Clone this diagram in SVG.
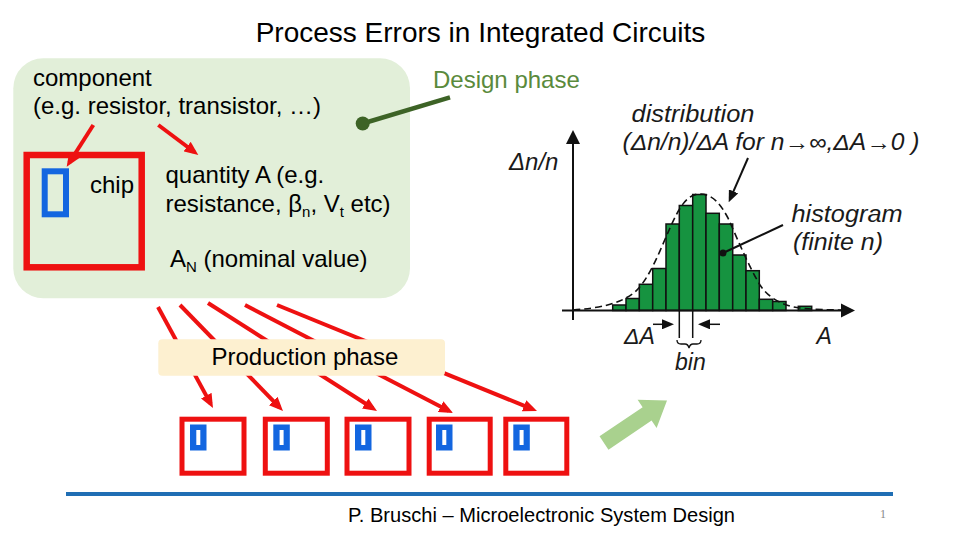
<svg xmlns="http://www.w3.org/2000/svg" width="960" height="540" viewBox="0 0 960 540">
<style>
text{font-family:"Liberation Sans",Arial,sans-serif;fill:#000}
.t24{font-size:24px}
.it{font-style:italic;font-size:23px;fill:#1a1a1a}
.red{stroke:#ee1111;stroke-width:4;fill:none}
.chip{fill:none;stroke:#ee1111;stroke-width:5}
.bar{fill:#169340;stroke:#111;stroke-width:1.5}
.blk{stroke:#111;fill:none}
</style>
<defs>
<marker id="ar" markerUnits="userSpaceOnUse" markerWidth="14" markerHeight="12" refX="9" refY="6" orient="auto"><path d="M0,0 L14,6 L0,12 z" fill="#ee1111"/></marker>
<marker id="ab" markerUnits="userSpaceOnUse" markerWidth="12" markerHeight="10" refX="8" refY="5" orient="auto"><path d="M0,0 L12,5 L0,10 z" fill="#111"/></marker>
</defs>
<rect width="960" height="540" fill="#fff"/>

<g id="title"><text x="480.5" y="42" font-size="28" text-anchor="middle">Process Errors in Integrated Circuits</text></g>

<g id="design-box">
<rect x="13.3" y="58.3" width="396.7" height="240" rx="30" fill="#e2efd9"/>
<text class="t24" x="33" y="86">component</text>
<text class="t24" x="33" y="114">(e.g. resistor, transistor, …)</text>
</g>

<g id="chip-big">
<rect x="26.7" y="155" width="115" height="112.3" fill="none" stroke="#ee1111" stroke-width="6.5"/>
<rect x="44.7" y="171.3" width="21.3" height="43" fill="none" stroke="#1366e0" stroke-width="6"/>
<text class="t24" x="90" y="193">chip</text>
</g>

<g id="quantity">
<text class="t24" x="165.5" y="183">quantity A (e.g.</text>
<text class="t24" x="165.5" y="211.5">resistance, β<tspan font-size="15" dy="5">n</tspan><tspan dy="-5">, V</tspan><tspan font-size="15" dy="5">t</tspan><tspan dy="-5"> etc)</tspan></text>
<text class="t24" x="170" y="266.5">A<tspan font-size="15" dy="5">N</tspan><tspan dy="-5"> (nominal value)</tspan></text>
</g>

<g id="design-phase">
<text class="t24" x="433" y="87.5" fill="#5a8a3c" style="fill:#5a8a3c">Design phase</text>
</g>

<g id="connectors">
<line x1="362.7" y1="123.5" x2="450" y2="97.3" stroke="#3d6326" stroke-width="4.5"/>
<circle cx="362.7" cy="123.5" r="7" fill="#3d6326"/>
<line class="red" x1="93.3" y1="125" x2="69.4" y2="162.5" marker-end="url(#ar)"/>
<line class="red" x1="158.3" y1="125" x2="194.3" y2="152" marker-end="url(#ar)"/>
<line class="red" x1="158" y1="307" x2="210.6" y2="403.6" marker-end="url(#ar)"/>
<line class="red" x1="180" y1="305" x2="279.5" y2="407.4" marker-end="url(#ar)"/>
<line class="red" x1="208" y1="303" x2="372.8" y2="408.3" marker-end="url(#ar)"/>
<line class="red" x1="245" y1="305" x2="448.6" y2="410.7" marker-end="url(#ar)"/>
<line class="red" x1="277" y1="305" x2="532.4" y2="409.1" marker-end="url(#ar)"/>
</g>

<g id="production-phase">
<rect x="158.3" y="339.3" width="286.7" height="36.4" rx="4" fill="#fdf0d0"/>
<text class="t24" x="211.5" y="365">Production phase</text>
</g>

<g id="chip-1"><rect class="chip" x="182" y="419.2" width="62" height="54"/><rect x="190" y="424.5" width="16.5" height="26" fill="#1366e0"/><rect x="196.3" y="430" width="4" height="15" fill="#fff"/></g>
<g id="chip-2"><rect class="chip" x="265.3" y="419.2" width="62" height="54"/><rect x="273.3" y="424.5" width="16.5" height="26" fill="#1366e0"/><rect x="279.6" y="430" width="4" height="15" fill="#fff"/></g>
<g id="chip-3"><rect class="chip" x="347" y="419.2" width="62" height="54"/><rect x="355" y="424.5" width="16.5" height="26" fill="#1366e0"/><rect x="361.3" y="430" width="4" height="15" fill="#fff"/></g>
<g id="chip-4"><rect class="chip" x="429.2" y="419.2" width="61" height="54"/><rect x="436" y="424.5" width="16.5" height="26" fill="#1366e0"/><rect x="442.3" y="430" width="4" height="15" fill="#fff"/></g>
<g id="chip-5"><rect class="chip" x="505.8" y="419.2" width="61" height="54"/><rect x="513.3" y="424.5" width="16.5" height="26" fill="#1366e0"/><rect x="519.6" y="430" width="4" height="15" fill="#fff"/></g>

<g id="green-arrow" transform="translate(604,443) rotate(-34)">
<polygon points="0,-8 52,-8 52,-17 76,0 52,17 52,8 0,8" fill="#a9d18e"/>
</g>

<g id="histogram">
<rect class="bar" x="612.7" y="305" width="13.3" height="5.5"/>
<rect class="bar" x="626" y="298.5" width="13.3" height="12"/>
<rect class="bar" x="639.3" y="284.3" width="13.4" height="26.2"/>
<rect class="bar" x="652.7" y="268.5" width="13.3" height="42"/>
<rect class="bar" x="666" y="224" width="13.3" height="86.5"/>
<rect class="bar" x="679.3" y="205.5" width="13.4" height="105"/>
<rect class="bar" x="692.7" y="194.5" width="13.3" height="116"/>
<rect class="bar" x="706" y="213.3" width="13.3" height="97.2"/>
<rect class="bar" x="719.3" y="224" width="13.4" height="86.5"/>
<rect class="bar" x="732.7" y="255" width="13.3" height="55.5"/>
<rect class="bar" x="746" y="270.7" width="13.3" height="39.8"/>
<rect class="bar" x="759.3" y="299.3" width="13.4" height="11.2"/>
<rect class="bar" x="772.7" y="301.5" width="13.3" height="9"/>
<rect class="bar" x="798.3" y="306.3" width="13.4" height="4.2"/>
<path class="blk" stroke-width="1.6" stroke-dasharray="7,4" d="M573,310 C600,308 620,304 635,292 C650,278 660,250 670,228 C680,205 688,194 700,194 C712,194 720,203 728,218 C738,240 748,265 760,285 C770,300 785,306 800,308 C820,310 840,310 850,310"/>
<line class="blk" stroke-width="2" x1="573" y1="320" x2="573" y2="140"/>
<polygon points="573,130 566,144 580,144" fill="#111"/>
<line class="blk" stroke-width="2" x1="562" y1="310.5" x2="844" y2="310.5"/>
<polygon points="855,310.5 841,303.5 841,317.5" fill="#111"/>
<line class="blk" stroke-width="1.5" x1="679.3" y1="310" x2="679.3" y2="338"/>
<line class="blk" stroke-width="1.5" x1="692.7" y1="310" x2="692.7" y2="338"/>
<line class="blk" stroke-width="1.5" x1="653" y1="324.3" x2="670" y2="324.3" marker-end="url(#ab)"/>
<line class="blk" stroke-width="1.5" x1="720" y1="324.3" x2="702" y2="324.3" marker-end="url(#ab)"/>
<path class="blk" stroke-width="1.3" d="M677,340 Q677,344 681,344 L685,344 Q688,344 689,348 Q690,344 693,344 L697,344 Q701,344 701,340"/>
<line class="blk" stroke-width="2" x1="748" y1="158" x2="730.3" y2="198.7" marker-end="url(#ab)"/>
<line class="blk" stroke-width="2" x1="783" y1="225" x2="723" y2="253"/>
<circle cx="723" cy="253" r="3.5" fill="#111"/>
<text class="it" x="509" y="170" font-size="24" style="font-size:24px">Δn/n</text>
<text class="it" x="631.5" y="121.5" textLength="123" lengthAdjust="spacingAndGlyphs">distribution</text>
<text class="it" x="622.5" y="150" textLength="297" lengthAdjust="spacingAndGlyphs">(Δn/n)/ΔA for n→∞,ΔA→0 )</text>
<text class="it" x="791.5" y="221.5" textLength="111" lengthAdjust="spacingAndGlyphs">histogram</text>
<text class="it" x="793" y="250" textLength="90" lengthAdjust="spacingAndGlyphs">(finite n)</text>
<text class="it" x="624" y="344">ΔA</text>
<text class="it" x="816.5" y="344">A</text>
<text class="it" x="675" y="370">bin</text>
</g>

<g id="footer">
<line x1="66" y1="494" x2="893" y2="494" stroke="#1f6eb4" stroke-width="4"/>
<text x="348" y="522" font-size="21" textLength="387" lengthAdjust="spacingAndGlyphs">P. Bruschi – Microelectronic System Design</text>
<text x="880" y="518" font-size="12" style="font-family:'Liberation Serif',serif;fill:#888">1</text>
</g>
</svg>
